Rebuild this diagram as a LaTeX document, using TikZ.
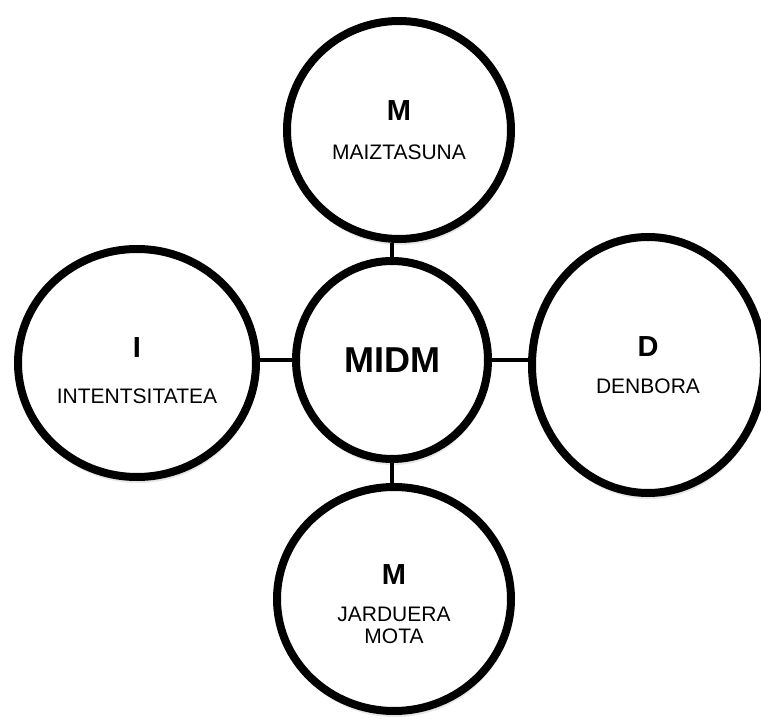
\documentclass[tikz,border=0pt]{standalone}
\usepackage{fontspec}
\setmainfont{Liberation Sans}
\usetikzlibrary{shapes.geometric,shadows}
\definecolor{ring}{HTML}{000000}

\tikzset{
  bubble/.style={ellipse, draw=ring, line width=8pt, fill=white, inner sep=0pt,
    align=center, font=\fontsize{21}{24}\selectfont,
    drop shadow={shadow xshift=1pt, shadow yshift=-6pt, opacity=.2}},
  link/.style={draw=ring, line width=4pt}
}
\newcommand{\letterM}[1]{{\fontsize{29}{30}\selectfont\bfseries #1}}

\begin{document}
\begin{tikzpicture}[x=1pt,y=-1pt]
    \useasboundingbox (0,0) rectangle (761,719);
    % the hub and its four parts
    \node [bubble, minimum width=192pt, minimum height=198pt, font=\fontsize{36}{38}\selectfont\bfseries] (midm) at (392,360) {MIDM};
    \node [bubble, minimum width=224pt, minimum height=218pt] (maiz) at (399,130) {\letterM{M}\\[15pt] MAIZTASUNA};
    \node [bubble, minimum width=238pt, minimum height=228pt] (inten) at (137,363) {\rule{0pt}{35pt}\letterM{I}\\[22pt] INTENTSITATEA};
    \node [bubble, minimum width=232pt, minimum height=256pt] (denb) at (648,365) {\letterM{D}\\[13pt] DENBORA};
    \node [bubble, minimum width=234pt, minimum height=224pt] (jard) at (394,599) {\rule{0pt}{31pt}\letterM{M}\\[13pt] JARDUERA\\[-2pt] MOTA};
    % links
    \draw [link] (midm.north) -- (midm.north |- maiz.south);
    \draw [link] (midm.west) -- (midm.west -| inten.east);
    \draw [link] (midm.east) -- (midm.east -| denb.west);
    \draw [link] (midm.south) -- (midm.south |- jard.north);
  \end{tikzpicture}
\end{document}
